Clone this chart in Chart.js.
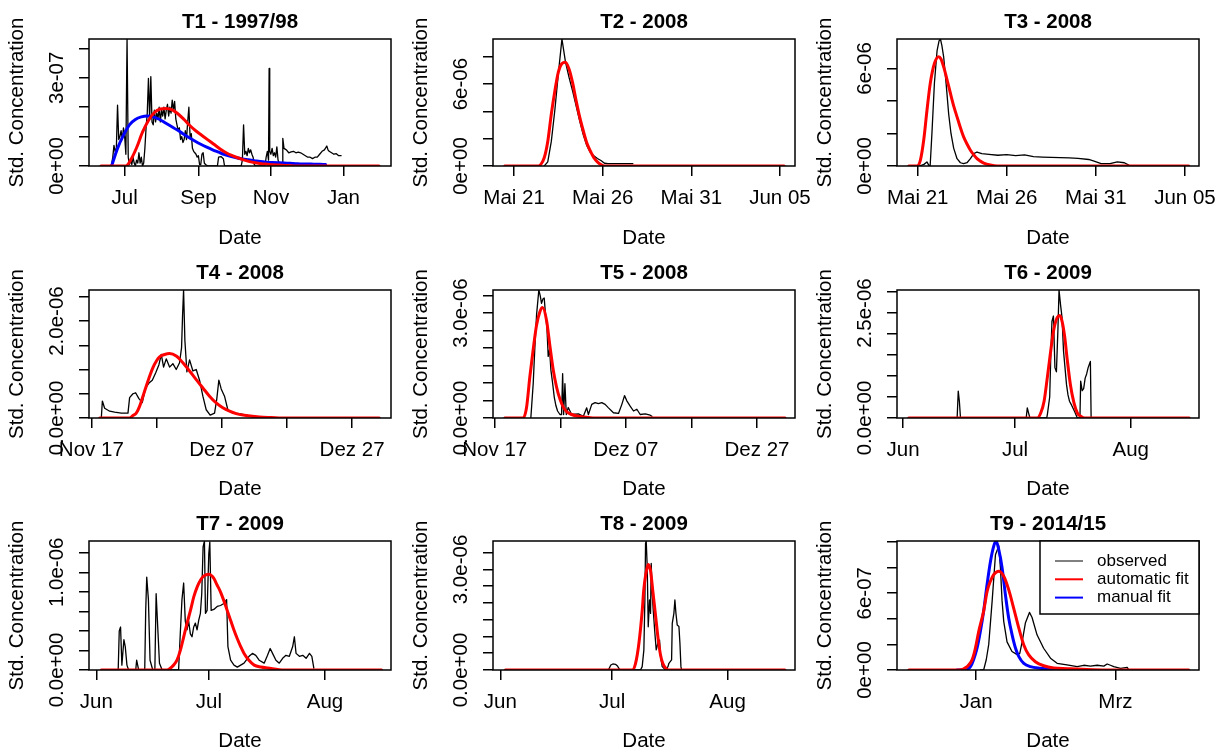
<!DOCTYPE html>
<html>
<head>
<meta charset="utf-8">
<script src="https://cdn.jsdelivr.net/npm/chart.js@4.4.1/dist/chart.umd.min.js"></script>
<style>
  body { margin: 0; background: #fff; }
  #grid { position: relative; width: 1222px; height: 754px; overflow: hidden; }
  #grid canvas { position: absolute; }
</style>
</head>
<body>
<div id="grid"></div>
<script>
const FONT = '"Liberation Sans", Arial, Helvetica, sans-serif';
Chart.defaults.font.family = FONT;
Chart.defaults.color = '#000';

// Series are [days since base date, value]; values are in the unit of the panel's y labels.

// T1 - 1997/98 (x 1e-7, days since 1997-07-01)
const t1Base = '1997-07-01';
const t1Range = [-30, 224];
const t1Obs = [
  [-12, 0], [-11, 0.05], [-10, 0.3], [-9, 0.7], [-8, 0.5], [-7, 0.6], [-6, 2.07], [-5, 0.9], [-4, 1.0], [-3, 1.2],
  [-2, 0.9], [-1, 1.3], [0, 1.0], [1, 0.4], [2, 4.32], [3, 0.3], [4, 0.05], [5, 0.2], [6, 0.05], [7, 0.3],
  [8, 0.1], [9, 0], [10, 0.2], [11, 0.1], [12, 0.45], [13, 0.1], [14, 0.3], [15, 0], [16, 0.1], [17, 0.6],
  [18, 1.3], [19, 1.8], [20, 2.98], [21, 1.6], [22, 3.04], [23, 1.5], [24, 1.4], [25, 1.9], [26, 1.5], [27, 1.8],
  [28, 1.6], [29, 2.0], [30, 1.5], [31, 1.9], [32, 1.7], [33, 2.0], [34, 1.6], [35, 1.9], [36, 2.1], [37, 1.7],
  [38, 2.0], [39, 1.8], [40, 2.24], [41, 1.9], [42, 2.2], [43, 1.6], [44, 1.4], [45, 1.2], [46, 1.3], [47, 0.9],
  [48, 1.0], [49, 0.8], [50, 0.9], [51, 1.2], [52, 0.9], [53, 1.5], [54, 2.0], [55, 1.0], [56, 1.1], [57, 0.6],
  [58, 0.5], [59, 0.45], [60, 0.4], [61, 0.3], [62, 0.35], [63, 0.05], [64, 0.05], [65, 0.4], [66, 0.45], [67, 0.1],
  [68, 0.05], [70, 0], [78, 0], [79, 0.3], [81, 0.32], [83, 0.25], [84, 0], [98, 0], [99, 0.2], [100, 1.4],
  [101, 0.4], [102, 0.5], [103, 0.35], [104, 0.6], [105, 0.45], [106, 0.55], [107, 0.4], [108, 0.3], [109, 0.05], [110, 0],
  [118, 0], [119, 0.3], [120, 0.5], [121, 0.2], [121.5, 3.32], [122, 0.5], [123, 0.4], [124, 0.6], [125, 0.35], [126, 0.45],
  [127, 0.3], [128, 0.65], [129, 0.2], [130, 0.1], [132.5, 0.1], [133, 0.94], [134, 0.6], [136, 0.55], [138, 0.45], [140, 0.48],
  [142, 0.5], [144, 0.45], [146, 0.47], [148, 0.45], [150, 0.4], [152, 0.35], [154, 0.3], [156, 0.3], [158, 0.25], [160, 0.3],
  [162, 0.3], [164, 0.4], [166, 0.5], [168, 0.55], [170, 0.68], [171, 0.55], [172, 0.5], [174, 0.45], [176, 0.4], [178, 0.42],
  [180, 0.35], [182, 0.35]
];
const t1Auto = [
  [-20, 0], [1, 0], [5, 0.2], [10, 0.62], [15, 1.15], [20, 1.55], [25, 1.82], [30, 1.94], [35, 1.96], [40, 1.91],
  [45, 1.77], [50, 1.58], [55, 1.37], [60, 1.19], [65, 1.04], [70, 0.89], [75, 0.74], [80, 0.59], [85, 0.46], [90, 0.36],
  [95, 0.28], [100, 0.21], [105, 0.15], [110, 0.11], [115, 0.08], [120, 0.06], [125, 0.04], [130, 0.03], [135, 0.02], [140, 0.01],
  [150, 0], [214, 0]
];
const t1Manual = [
  [-11, 0], [-6, 0.6], [-1, 1.05], [4, 1.4], [9, 1.58], [14, 1.67], [19, 1.7], [24, 1.67], [29, 1.59], [34, 1.47],
  [39, 1.35], [44, 1.23], [49, 1.1], [54, 0.97], [59, 0.85], [64, 0.74], [69, 0.64], [74, 0.55], [79, 0.47], [84, 0.39],
  [89, 0.33], [94, 0.28], [99, 0.24], [104, 0.21], [109, 0.18], [114, 0.15], [119, 0.13], [124, 0.12], [129, 0.11], [134, 0.1],
  [139, 0.09], [144, 0.08], [149, 0.07], [154, 0.07], [159, 0.06], [164, 0.06], [169, 0.05]
];
const t1YMax = 4.32;
const t1YTicks = [0, 1, 2, 3, 4];
const t1YLabels = ['0e+00', '', '', '3e-07', ''];
const t1XTicks = ['1997-07-01', '1997-09-01', '1997-11-01', '1998-01-01'];
const t1XLabels = ['Jul', 'Sep', 'Nov', 'Jan'];

// T2 / T3 - May 2008 (x 1e-6, days since 2008-05-21)
const may08Base = '2008-05-21';
const may08XTicks = ['2008-05-21', '2008-05-26', '2008-05-31', '2008-06-05'];
const may08XLabels = ['Mai 21', 'Mai 26', 'Mai 31', 'Jun 05'];

const t2Range = [-1.19, 15.85];
const t2Obs = [
  [1.7, 0], [1.9, 0.3], [2.1, 1.8], [2.3, 4.1], [2.5, 6.8], [2.7, 9.3], [2.9, 7.6], [3.1, 6.5], [3.3, 5.5], [3.5, 4.4],
  [3.7, 3.3], [3.9, 2.3], [4.1, 1.5], [4.3, 1.0], [4.5, 0.75], [4.7, 0.55], [4.9, 0.4], [5.1, 0.2], [5.3, 0.17], [6.7, 0.17]
];
const t2Auto = [
  [-0.53, 0], [1.3, 0], [1.5, 0.1], [1.7, 0.6], [1.9, 1.8], [2.1, 3.8], [2.3, 5.5], [2.5, 6.9], [2.7, 7.5], [2.9, 7.6],
  [3.1, 7.1], [3.3, 6.1], [3.5, 4.8], [3.7, 3.6], [3.9, 2.6], [4.1, 1.7], [4.3, 1.1], [4.5, 0.6], [4.7, 0.3], [4.9, 0.1],
  [5.1, 0], [15.24, 0]
];
const t2YMax = 9.3;
const t2YTicks = [0, 2, 4, 6, 8];
const t2YLabels = ['0e+00', '', '', '6e-06', ''];

const t3Range = [-1.16, 15.79];
const t3Obs = [
  [0.1, 0], [0.35, 0.1], [0.52, 0.25], [0.62, 0.05], [0.7, 0], [0.8, 2.0], [0.94, 5.1], [1.09, 7.1], [1.2, 7.7], [1.28, 7.81],
  [1.36, 7.4], [1.46, 6.7], [1.61, 4.9], [1.74, 3.2], [1.87, 2.0], [2.02, 1.1], [2.21, 0.45], [2.4, 0.2], [2.58, 0.14], [2.77, 0.2],
  [2.96, 0.45], [3.15, 0.76], [3.33, 0.86], [3.6, 0.76], [4.0, 0.72], [4.5, 0.66], [5.0, 0.7], [5.5, 0.64], [6.0, 0.68], [6.5, 0.58],
  [7.0, 0.55], [7.5, 0.53], [8.0, 0.51], [8.5, 0.5], [9.0, 0.47], [9.6, 0.4], [9.9, 0.3], [10.3, 0.15], [10.8, 0.15], [11.2, 0.25],
  [11.6, 0.2], [11.85, 0.05]
];
const t3Auto = [
  [-0.5, 0], [-0.04, 0], [0.15, 0.35], [0.34, 1.6], [0.52, 3.4], [0.71, 5.1], [0.94, 6.3], [1.18, 6.72], [1.3, 6.6], [1.46, 6.1],
  [1.65, 5.3], [1.84, 4.46], [2.02, 3.7], [2.21, 3.02], [2.4, 2.35], [2.58, 1.79], [2.77, 1.35], [2.96, 0.97], [3.15, 0.68], [3.33, 0.45],
  [3.52, 0.3], [3.71, 0.18], [4.08, 0.06], [4.46, 0], [15.22, 0]
];
const t3YMax = 7.81;
const t3YTicks = [0, 2, 4, 6];
const t3YLabels = ['0e+00', '', '', '6e-06'];

// T4 / T5 - Nov/Dec 2008 (x 1e-6, days since 2008-11-17)
const nov08Base = '2008-11-17';
const nov08XTicks = ['2008-11-17', '2008-11-27', '2008-12-07', '2008-12-17', '2008-12-27'];
const nov08XLabels = ['Nov 17', '', 'Dez 07', '', 'Dez 27'];

const t4Range = [-0.36, 45.97];
const t4Obs = [
  [1.53, 0], [1.69, 0.35], [2.04, 0.2], [2.81, 0.14], [3.58, 0.12], [4.6, 0.1], [5.62, 0.1], [5.87, 0.42], [6.38, 0.5], [6.79, 0.52],
  [7.3, 0.4], [7.81, 0.32], [8.32, 0.62], [8.84, 0.72], [9.35, 0.78], [9.86, 0.93], [10.37, 1.1], [10.73, 1.31], [11.08, 1.05], [11.49, 1.22],
  [12.0, 1.05], [12.51, 1.12], [13.02, 1.0], [13.53, 1.14], [13.84, 1.45], [13.99, 2.1], [14.15, 2.64], [14.35, 1.6], [14.66, 0.95], [15.07, 1.2],
  [15.58, 0.97], [16.09, 1.0], [16.6, 0.78], [17.11, 0.45], [17.62, 0.17], [18.23, 0.06], [18.9, 0.1], [19.25, 0.4], [19.56, 0.78], [19.92, 0.6],
  [20.43, 0.45], [20.94, 0.17], [21.71, 0.1], [22.73, 0.09], [23.75, 0.06], [24.77, 0.03], [27.58, 0.02]
];
const t4Auto = [
  [1.28, 0], [5.87, 0], [6.38, 0.05], [6.89, 0.1], [7.4, 0.24], [7.92, 0.45], [8.43, 0.66], [8.94, 0.86], [9.45, 1.04], [9.96, 1.17],
  [10.47, 1.26], [11.24, 1.31], [12.0, 1.33], [13.02, 1.28], [14.04, 1.14], [15.07, 0.97], [16.09, 0.79], [17.11, 0.62], [18.13, 0.45], [19.15, 0.31],
  [20.17, 0.21], [21.2, 0.14], [22.22, 0.09], [23.75, 0.05], [25.8, 0.02], [27.6, 0.01], [30, 0], [44.18, 0]
];
const t4YMax = 2.64;
const t4YTicks = [0, 0.5, 1, 1.5, 2, 2.5];
const t4YLabels = ['0.0e+00', '', '', '', '2.0e-06', ''];

const t5Range = [-0.26, 45.8];
const t5Obs = [
  [5.51, 0], [5.87, 0.98], [6.12, 2.0], [6.38, 2.94], [6.73, 3.66], [6.94, 3.5], [7.14, 3.28], [7.35, 3.4], [7.55, 3.43], [7.76, 2.94],
  [7.96, 2.6], [8.16, 1.76], [8.37, 1.96], [8.57, 1.37], [8.83, 1.0], [9.08, 0.6], [9.34, 0.35], [9.59, 0.2], [9.95, 0.1], [10.2, 0.1],
  [10.36, 1.27], [10.51, 0.1], [10.71, 0.98], [10.92, 0.1], [11.22, 0.3], [11.73, 0.1], [12.76, 0.12], [13.52, 0.05], [14.03, 0.29], [14.29, 0.1],
  [14.8, 0.39], [15.31, 0.44], [15.82, 0.41], [16.33, 0.44], [16.84, 0.39], [17.35, 0.29], [18.11, 0.15], [18.88, 0.13], [19.39, 0.39], [19.8, 0.64],
  [20.15, 0.49], [20.66, 0.34], [21.17, 0.2], [21.68, 0.25], [22.19, 0.1], [22.96, 0.12], [23.72, 0.08], [23.98, 0.05]
];
const t5Auto = [
  [1.53, 0], [4.34, 0], [4.85, 0.29], [5.36, 1.18], [5.87, 1.96], [6.38, 2.65], [6.89, 3.04], [7.3, 3.16], [7.91, 2.79], [8.42, 2.06],
  [8.93, 1.37], [9.44, 0.88], [9.95, 0.54], [10.46, 0.31], [10.97, 0.18], [11.73, 0.1], [12.76, 0.05], [14.03, 0.02], [15.5, 0], [44.3, 0]
];
const t5YMax = 3.66;
const t5YTicks = [0, 0.5, 1, 1.5, 2, 2.5, 3, 3.5];
const t5YLabels = ['0.0e+00', '', '', '', '', '', '3.0e-06', ''];

// T6 / T7 / T8 - summer 2009 (x 1e-6, days since 2009-06-01)
const jun09Base = '2009-06-01';
const jun09XTicks = ['2009-06-01', '2009-07-01', '2009-08-01'];
const jun09XLabels = ['Jun', 'Jul', 'Aug'];

const t6Range = [-1.61, 79.3];
const t6Obs = [
  [1.5, 0], [14.5, 0], [14.8, 0.64], [15.1, 0.4], [15.4, 0], [33.0, 0], [33.3, 0.24], [33.7, 0.1], [34.0, 0], [38.5, 0],
  [38.7, 0.1], [39.3, 0.5], [39.6, 1.5], [39.9, 2.3], [40.3, 2.43], [40.7, 1.2], [41.1, 1.1], [41.5, 2.1], [41.8, 3.05], [42.2, 2.7],
  [42.6, 2.4], [43.0, 1.6], [43.4, 1.2], [43.8, 0.8], [44.2, 0.55], [44.6, 0.4], [45.2, 0.3], [46.0, 0.15], [46.7, 0], [47.4, 0],
  [47.6, 0.88], [48.0, 0.65], [48.4, 0.7], [48.8, 0.95], [49.2, 1.05], [49.6, 1.2], [50.0, 1.3], [50.2, 1.35], [50.4, 0]
];
const t6Auto = [
  [1.5, 0], [36.0, 0], [36.9, 0.12], [37.8, 0.4], [38.6, 0.92], [39.5, 1.55], [40.4, 2.11], [41.3, 2.39], [42.0, 2.44], [42.6, 2.31],
  [43.3, 1.95], [44.0, 1.39], [44.9, 0.76], [45.8, 0.36], [46.7, 0.12], [47.6, 0.04], [48.5, 0], [76.7, 0]
];
const t6YMax = 3.05;
const t6YTicks = [0, 0.5, 1, 1.5, 2, 2.5, 3];
const t6YLabels = ['0.0e+00', '', '', '', '', '2.5e-06', ''];

const t7Range = [-1.97, 78.6];
const t7Obs = [
  [5.82, 0], [6.1, 0.4], [6.45, 0.44], [6.8, 0.05], [7.34, 0.31], [7.7, 0.24], [8.15, 0.05], [8.6, 0], [10.5, 0], [10.74, 0.1],
  [11.28, 0], [12.9, 0], [13.16, 0.61], [13.43, 0.95], [13.88, 0.72], [14.32, 0.1], [15.04, 0], [15.6, 0], [15.94, 0.78], [16.29, 0.5],
  [16.83, 0.07], [17.55, 0], [21.93, 0], [22.38, 0.37], [22.83, 0.72], [23.28, 0.89], [23.72, 0.5], [24.17, 0.41], [24.62, 0.5], [25.07, 0.37],
  [25.51, 0.34], [25.96, 0.44], [26.41, 0.48], [26.86, 0.41], [27.31, 0.51], [27.75, 0.58], [28.11, 0.78], [28.47, 1.26], [28.83, 1.32], [29.1, 0.58],
  [29.54, 0.61], [29.99, 1.19], [30.26, 1.31], [30.62, 0.61], [31.33, 0.62], [32.23, 0.65], [33.12, 0.66], [34.02, 0.68], [34.74, 0.72], [35.09, 0.24],
  [35.81, 0.1], [36.71, 0.05], [37.6, 0.03], [38.5, 0.05], [39.39, 0.07], [40.73, 0.14], [41.63, 0.17], [42.52, 0.15], [43.42, 0.1], [44.76, 0.07],
  [45.66, 0.15], [46.37, 0.22], [47.0, 0.17], [47.9, 0.1], [48.79, 0.07], [49.69, 0.12], [50.58, 0.15], [51.48, 0.14], [52.37, 0.24], [52.82, 0.34],
  [53.27, 0.17], [54.16, 0.14], [55.06, 0.15], [55.95, 0.12], [56.85, 0.17], [57.48, 0.14], [58.01, 0.02]
];
const t7Auto = [
  [1.3, 0], [18.8, 0], [20.6, 0.05], [21.5, 0.1], [22.4, 0.2], [23.3, 0.34], [24.2, 0.48], [25.1, 0.61], [26.0, 0.75], [26.9, 0.85],
  [27.8, 0.92], [28.6, 0.96], [30.0, 0.98], [31.3, 0.94], [32.2, 0.87], [33.1, 0.8], [34.0, 0.71], [34.9, 0.61], [35.8, 0.51], [36.7, 0.41],
  [37.6, 0.32], [38.5, 0.24], [39.4, 0.17], [40.7, 0.1], [42.1, 0.05], [43.9, 0.03], [45.7, 0.02], [50.1, 0], [76.1, 0]
];
const t7YMax = 1.32;
const t7YTicks = [0, 0.2, 0.4, 0.6, 0.8, 1.0, 1.2];
const t7YLabels = ['0.0e+00', '', '', '', '', '1.0e-06', ''];

const t8Range = [-1.97, 79.1];
const t8Obs = [
  [29.0, 0], [29.66, 0.15], [30.2, 0.18], [30.91, 0.17], [31.45, 0.12], [31.99, 0.02], [32.3, 0], [37.63, 0], [38.08, 0.1], [38.53, 0.6],
  [38.8, 2.09], [38.98, 3.78], [39.16, 3.85], [39.43, 3.08], [39.7, 1.29], [40.05, 2.09], [40.32, 1.69], [40.5, 3.18], [40.77, 2.29], [41.04, 1.79],
  [41.49, 1.09], [41.85, 0.6], [42.29, 0.8], [42.74, 0.89], [43.01, 0.4], [43.46, 0.1], [44.35, 0], [45.0, 0.1], [45.25, 0.2], [45.97, 0.3],
  [46.15, 1.39], [46.59, 1.69], [46.86, 2.09], [47.13, 1.7], [47.49, 1.34], [47.94, 1.3], [48.21, 0.8], [48.48, 0.1], [48.66, 0]
];
const t8Auto = [
  [1.34, 0], [35.4, 0], [36.3, 0.2], [37.2, 0.8], [38.1, 1.79], [38.5, 2.39], [39.0, 2.83], [39.6, 3.13], [39.7, 3.15], [40.3, 2.98],
  [40.9, 2.39], [41.7, 1.59], [42.4, 0.89], [43.0, 0.45], [43.6, 0.2], [44.4, 0.05], [45.2, 0], [76.4, 0]
];
const t8YMax = 3.85;
const t8YTicks = [0, 0.5, 1, 1.5, 2, 2.5, 3, 3.5];
const t8YLabels = ['0.0e+00', '', '', '', '', '', '3.0e-06', ''];

// T9 - 2014/15 (x 1e-7, days since 2015-01-01)
const t9Base = '2015-01-01';
const t9Range = [-33.5, 94.4];
const t9Obs = [
  [1.8, 0], [3.2, 0], [4.3, 0.8], [5.35, 2.0], [6.8, 5.4], [8.2, 9.0], [9.6, 9.7], [10.3, 8.0], [11.0, 5.4], [11.7, 3.8],
  [13.1, 2.2], [15.2, 1.45], [17.4, 1.2], [18.5, 1.3], [19.5, 2.2], [20.9, 3.7], [22.6, 4.5], [23.7, 4.1], [25.8, 2.75], [28.6, 1.7],
  [31.5, 0.92], [34.3, 0.52], [38.5, 0.4], [42.8, 0.26], [45.6, 0.37], [48.4, 0.3], [51.3, 0.37], [54.1, 0.3], [55.5, 0.47], [56.9, 0.37],
  [58.3, 0.26], [61.2, 0.13], [64.0, 0.2], [64.7, 0]
];
const t9Auto = [
  [-28.5, 0], [-7.4, 0], [-3.8, 0.26], [-1.7, 0.79], [-0.3, 1.7], [1.1, 3.0], [3.2, 4.6], [4.66, 6.15], [6.06, 6.94], [7.5, 7.46],
  [9.6, 7.72], [11.7, 7.33], [13.8, 6.28], [15.9, 4.84], [18.1, 3.27], [20.2, 1.96], [22.3, 1.18], [25.1, 0.65], [28.6, 0.33], [32.9, 0.15],
  [38.6, 0.1], [45, 0.05], [55, 0], [90.1, 0]
];
const t9Manual = [
  [-8.1, 0], [-4, 0.05], [-2.4, 0.26], [-1, 0.85], [0.4, 1.7], [1.8, 3.0], [3.2, 4.6], [4.66, 6.7], [6.1, 8.5], [7.5, 9.7],
  [8.47, 10.08], [9.6, 9.4], [11.0, 8.0], [12.4, 5.9], [13.8, 4.06], [15.25, 2.75], [16.7, 1.7], [18.1, 1.05], [20.2, 0.52], [23.0, 0.26],
  [27.2, 0.13], [32, 0.05], [42.1, 0]
];
const t9YMax = 10.08;
const t9YTicks = [0, 2, 4, 6, 8, 10];
const t9YLabels = ['0e+00', '', '', '6e-07', '', ''];
const t9XTicks = ['2015-01-01', '2015-03-01'];
const t9XLabels = ['Jan', 'Mrz'];

const panels = [
  { title: 'T1 - 1997/98', base: t1Base, range: t1Range, obs: t1Obs, auto: t1Auto, manual: t1Manual,
    yMax: t1YMax, yTicks: t1YTicks, yLabels: t1YLabels, xTicks: t1XTicks, xLabels: t1XLabels },
  { title: 'T2 - 2008', base: may08Base, range: t2Range, obs: t2Obs, auto: t2Auto,
    yMax: t2YMax, yTicks: t2YTicks, yLabels: t2YLabels, xTicks: may08XTicks, xLabels: may08XLabels },
  { title: 'T3 - 2008', base: may08Base, range: t3Range, obs: t3Obs, auto: t3Auto,
    yMax: t3YMax, yTicks: t3YTicks, yLabels: t3YLabels, xTicks: may08XTicks, xLabels: may08XLabels },
  { title: 'T4 - 2008', base: nov08Base, range: t4Range, obs: t4Obs, auto: t4Auto,
    yMax: t4YMax, yTicks: t4YTicks, yLabels: t4YLabels, xTicks: nov08XTicks, xLabels: nov08XLabels },
  { title: 'T5 - 2008', base: nov08Base, range: t5Range, obs: t5Obs, auto: t5Auto,
    yMax: t5YMax, yTicks: t5YTicks, yLabels: t5YLabels, xTicks: nov08XTicks, xLabels: nov08XLabels },
  { title: 'T6 - 2009', base: jun09Base, range: t6Range, obs: t6Obs, auto: t6Auto,
    yMax: t6YMax, yTicks: t6YTicks, yLabels: t6YLabels, xTicks: jun09XTicks, xLabels: jun09XLabels },
  { title: 'T7 - 2009', base: jun09Base, range: t7Range, obs: t7Obs, auto: t7Auto,
    yMax: t7YMax, yTicks: t7YTicks, yLabels: t7YLabels, xTicks: jun09XTicks, xLabels: jun09XLabels },
  { title: 'T8 - 2009', base: jun09Base, range: t8Range, obs: t8Obs, auto: t8Auto,
    yMax: t8YMax, yTicks: t8YTicks, yLabels: t8YLabels, xTicks: jun09XTicks, xLabels: jun09XLabels },
  { title: 'T9 - 2014/15', base: t9Base, range: t9Range, obs: t9Obs, auto: t9Auto, manual: t9Manual,
    yMax: t9YMax, yTicks: t9YTicks, yLabels: t9YLabels, xTicks: t9XTicks, xLabels: t9XLabels, legend: true }
];

// 3x3 grid: canvas boxes and fixed axis sizes so every plot box lines up;
// canvases overlap a little so edge tick labels are not cut off
const colLeft = [0, 404, 808], colWidth = [404, 420, 414], padRight = [13, 29, 23];
const rowTop = [0, 251, 502], rowHeight = [251, 251, 252], xAxisHeight = [85, 84, 84];
const Y_AXIS_WIDTH = 89, TICK_LEN = 10, TEXT_SIZE = 20.5;

const measure = document.createElement('canvas').getContext('2d');
measure.font = 'normal ' + TEXT_SIZE + 'px ' + FONT;
const widest = labels => Math.max(...labels.map(l => measure.measureText(l).width));

const dayOffset = (base, date) => (Date.parse(date) - Date.parse(base)) / 864e5;
const toPoints = pairs => pairs.map(([x, y]) => ({ x, y }));

// plot box drawn round the chart area
const frame = {
  id: 'frame',
  afterDraw(chart) {
    const { ctx, chartArea: a } = chart;
    ctx.save();
    ctx.strokeStyle = '#000';
    ctx.lineWidth = 1.5;
    ctx.strokeRect(a.left, a.top, a.right - a.left, a.bottom - a.top);
    ctx.restore();
  }
};

// boxed legend in the top right corner of the plot
const cornerLegend = {
  id: 'cornerLegend',
  afterDraw(chart) {
    const { ctx, chartArea: a } = chart;
    const w = 159, h = 73, x0 = a.right - w, y0 = a.top;
    ctx.save();
    ctx.fillStyle = '#fff';
    ctx.fillRect(x0, y0, w, h);
    ctx.strokeStyle = '#000';
    ctx.lineWidth = 1.5;
    ctx.strokeRect(x0, y0, w, h);
    ctx.font = '17px ' + FONT;
    ctx.textBaseline = 'middle';
    chart.data.datasets.forEach((ds, k) => {
      const y = y0 + 20 + k * 18.3;
      ctx.beginPath();
      ctx.moveTo(x0 + 15, y);
      ctx.lineTo(x0 + 43, y);
      ctx.strokeStyle = ds.borderColor;
      ctx.lineWidth = ds.borderWidth > 2 ? 2 : 1;
      ctx.stroke();
      ctx.fillStyle = '#000';
      ctx.fillText(ds.label, x0 + 57, y);
    });
    ctx.restore();
  }
};

const grid = document.getElementById('grid');
const textFont = { size: TEXT_SIZE, lineHeight: '24px' };

panels.forEach((p, i) => {
  const col = i % 3, row = Math.floor(i / 3);
  const canvas = document.createElement('canvas');
  canvas.width = colWidth[col];
  canvas.height = rowHeight[row];
  canvas.style.left = colLeft[col] + 'px';
  canvas.style.top = rowTop[row] + 'px';
  grid.appendChild(canvas);

  const xTicks = p.xTicks.map(d => dayOffset(p.base, d));
  const yPad = 22 - widest(p.yLabels) / 2;

  const datasets = [
    { label: 'observed', data: toPoints(p.obs), borderColor: '#000000', borderWidth: 1.3, order: 2 },
    { label: 'automatic fit', data: toPoints(p.auto), borderColor: '#ff0000', borderWidth: 3,
      cubicInterpolationMode: 'monotone', order: 0 }
  ];
  if (p.manual) {
    datasets.push({ label: 'manual fit', data: toPoints(p.manual), borderColor: '#0000ff', borderWidth: 3,
      cubicInterpolationMode: 'monotone', order: 1 });
  }

  new Chart(canvas, {
    type: 'line',
    data: { datasets },
    options: {
      responsive: false,
      animation: false,
      events: [],
      elements: {
        point: { radius: 0 },
        line: { tension: 0, borderJoinStyle: 'round', borderCapStyle: 'round', fill: false }
      },
      layout: { padding: { left: 0, right: padRight[col], top: 0, bottom: 0 } },
      plugins: {
        legend: { display: false },
        tooltip: { enabled: false },
        title: {
          display: true, text: p.title, fullSize: false, color: '#000',
          font: { size: TEXT_SIZE, weight: 'bold', lineHeight: '24px' },
          padding: { top: 10, bottom: 5 }
        }
      },
      scales: {
        x: {
          type: 'linear', min: p.range[0], max: p.range[1],
          afterBuildTicks: s => { s.ticks = xTicks.map(value => ({ value })); },
          afterFit: s => { s.height = xAxisHeight[row]; s.paddingLeft = 0; s.paddingRight = 0; },
          ticks: { autoSkip: false, maxRotation: 0, padding: 10, font: textFont, callback: (v, k) => p.xLabels[k] },
          grid: { drawOnChartArea: false, tickLength: TICK_LEN, color: '#000', lineWidth: 1.5 },
          border: { display: false },
          title: { display: true, text: 'Date', font: textFont, padding: { top: 0, bottom: 1 } }
        },
        y: {
          type: 'linear', min: 0, max: p.yMax,
          afterBuildTicks: s => { s.ticks = p.yTicks.map(value => ({ value })); },
          afterFit: s => { s.width = Y_AXIS_WIDTH; s.paddingTop = 0; s.paddingBottom = 0; },
          ticks: { autoSkip: false, minRotation: 90, maxRotation: 90, crossAlign: 'center', padding: yPad,
                   font: textFont, callback: (v, k) => p.yLabels[k] },
          grid: { drawOnChartArea: false, tickLength: TICK_LEN, color: '#000', lineWidth: 1.5 },
          border: { display: false },
          title: { display: true, text: 'Std. Concentration', font: textFont, padding: { top: 5.5, bottom: 0 } }
        }
      }
    },
    plugins: p.legend ? [frame, cornerLegend] : [frame]
  });
});
</script>
</body>
</html>
